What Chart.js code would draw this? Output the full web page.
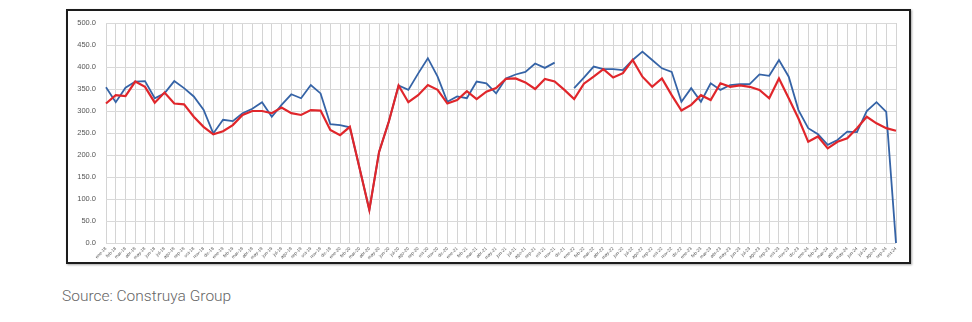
<!DOCTYPE html>
<html>
<head>
<meta charset="utf-8">
<script src="https://cdn.jsdelivr.net/npm/chart.js@4.4.1/dist/chart.umd.min.js"></script>
<style>
  html, body { margin: 0; padding: 0; background: #ffffff; }
  body { width: 972px; height: 322px; position: relative; overflow: hidden; }
  #frame { position: absolute; left: 66px; top: 9px; width: 841px; height: 251px;
           border: 2px solid #1c1c1c; box-shadow: 1px 1px 2px rgba(0,0,0,0.35); background: #fff; }
  #wrap { position: absolute; left: 0; top: 0; width: 972px; height: 270px; }
  #source { position: absolute; left: 62px; top: 287px; font-family: Roboto, "Open Sans", sans-serif;
            font-size: 15.5px; font-weight: 300; color: #666; }
</style>
</head>
<body>
<div id="frame"></div>
<div id="wrap"><canvas id="c"></canvas></div>
<div id="source">Source: Construya Group</div>
<script>
const months = ["ene","feb","mar","abr","may","jun","jul","ago","sep","oct","nov","dic"];
const categories = [];
for (let i = 0; i < 82; i++) {
  const yy = 18 + Math.floor(i / 12);
  categories.push(months[i % 12] + "-" + yy);
}
const yTicks = [0, 50, 100, 150, 200, 250, 300, 350, 400, 450, 500];

const blueSeries = [354,320,353,367,368,329,340,368,352,333,
                    303,249,280,277,295,305,320,287,314,338,
                    329,359,340,270,268,263,170,75,207,276,
                    358,348,385,420,378,321,333,329,367,363,
                    340,374,383,389,408,398,410,null,352,376,
                    401,395,395,393,416,435,416,397,389,321,
                    352,321,363,348,359,361,361,383,380,416,
                    378,302,261,247,223,234,253,252,300,320,
                    298,0];
const redSeries = [317,336,334,367,355,319,342,317,315,287,
                   264,247,254,268,291,300,300,295,308,295,
                   291,302,301,257,245,264,170,75,207,276,
                   358,320,336,359,348,317,325,345,327,344,
                   352,373,374,365,350,373,367,348,327,362,
                   378,395,376,386,416,378,355,374,336,301,
                   314,336,325,363,355,358,355,348,329,374,
                   329,283,230,242,215,230,238,261,287,272,
                   261,255];

new Chart(document.getElementById("c"), {
  type: "line",
  data: {
    labels: categories,
    datasets: [
      { label: "Serie original", data: blueSeries, borderColor: "#3563a6", borderWidth: 1.8,
        pointRadius: 0, tension: 0, spanGaps: false, order: 2, fill: false },
      { label: "Serie desestacionalizada", data: redSeries, borderColor: "#e0262b", borderWidth: 2.2,
        pointRadius: 0, tension: 0, order: 1, fill: false }
    ]
  },
  options: {
    responsive: true,
    maintainAspectRatio: false,
    animation: false,
    devicePixelRatio: 1,
    layout: { padding: { left: 70, right: 76, top: 23, bottom: 0 } },
    plugins: { legend: { display: false }, tooltip: { enabled: false } },
    scales: {
      x: {
        offset: false,
        afterFit: (s) => { s.height = 27; },
        grid: { color: "#d4d4d4", lineWidth: 1, drawTicks: false },
        border: { display: false },
        ticks: { autoSkip: false, minRotation: 45, maxRotation: 45, padding: 3,
                 font: { family: "Liberation Sans", size: 4.5 }, color: "#555" }
      },
      y: {
        min: 0, max: 500,
        afterFit: (s) => { s.width = 36; },
        afterBuildTicks: (s) => { s.ticks = yTicks.map(v => ({ value: v })); },
        grid: { color: "#d9d9d9", lineWidth: 1, drawTicks: false },
        border: { display: false },
        ticks: { padding: 10, font: { family: "Liberation Sans", size: 7.5 }, color: "#555",
                 callback: (v) => Number(v).toFixed(1) }
      }
    }
  }
});
</script>
</body>
</html>
